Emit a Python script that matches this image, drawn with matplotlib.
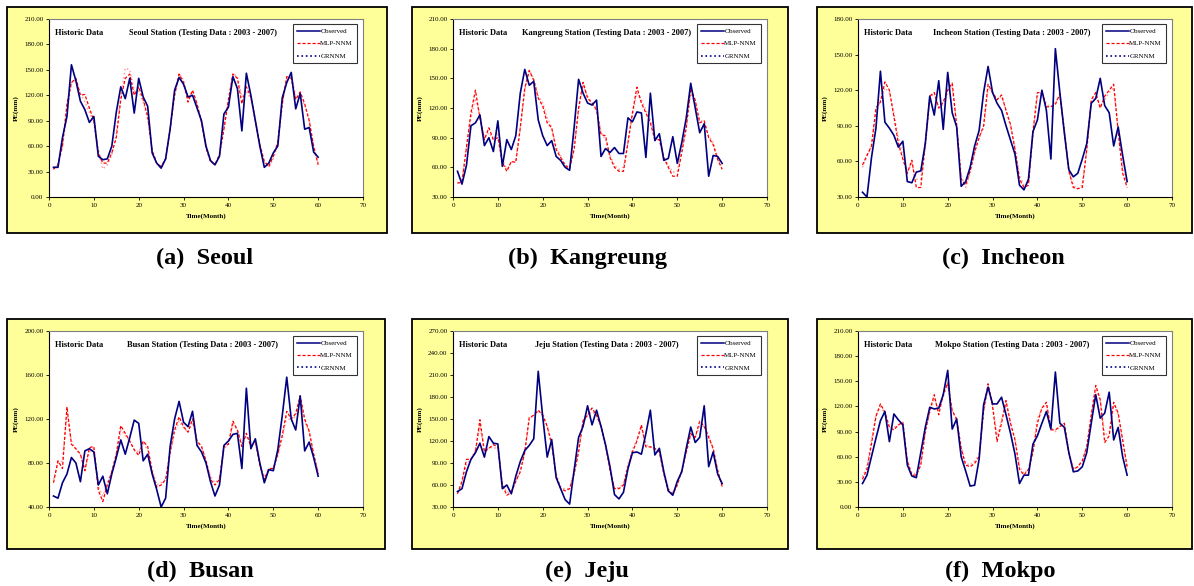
import matplotlib.pyplot as plt
import matplotlib.patches as mpatches
from matplotlib.lines import Line2D
import numpy as np

plt.rcParams["font.family"] = ["Liberation Serif", "DejaVu Serif"]

W, H = 1194, 586
YELLOW = "#FFFF99"
NAVY = "#000080"
RED = "#FF0000"
PINK = "#FF9F9F"

months = np.arange(1, 61)

stations = ["Seoul", "Kangreung", "Incheon", "Busan", "Jeju", "Mokpo"]
captions = ["(a)  Seoul", "(b)  Kangreung", "(c)  Incheon",
            "(d)  Busan", "(e)  Jeju", "(f)  Mokpo"]
y_limits = [(0, 210, 30), (30, 210, 30), (30, 180, 30),
            (40, 200, 40), (30, 270, 30), (0, 210, 30)]

# ── dane ──────────────────────────────────────────────────────────────────────
seoul_obs = [35, 35, 70, 95, 156, 137, 113, 103, 88, 95, 48, 44, 45, 60, 100, 130, 116, 140, 99, 140,
             118, 107, 52, 40, 34, 45, 80, 126, 141, 133, 118, 120, 105, 90, 60, 43, 38, 48, 98, 106,
             142, 128, 78, 146, 120, 90, 60, 35, 40, 52, 60, 117, 135, 147, 104, 122, 80, 82, 53, 47]
seoul_mlp = [33, 38, 60, 110, 135, 140, 120, 121, 105, 90, 52, 40, 40, 52, 70, 115, 140, 145, 120, 130,
             115, 95, 55, 40, 36, 45, 80, 120, 145, 135, 112, 126, 110, 88, 58, 42, 38, 50, 80, 115,
             145, 140, 110, 130, 118, 90, 62, 42, 36, 48, 65, 110, 142, 140, 115, 124, 110, 90, 60, 38]
seoul_grn = [32, 38, 60, 100, 135, 138, 122, 112, 100, 88, 55, 33, 38, 50, 75, 118, 152, 150, 125, 125,
             112, 92, 55, 40, 36, 45, 82, 120, 146, 138, 115, 125, 108, 88, 58, 42, 38, 48, 82, 112,
             146, 142, 118, 125, 115, 92, 62, 40, 35, 45, 62, 108, 140, 142, 120, 118, 108, 92, 58, 40]

kang_obs = [56, 43, 62, 102, 105, 113, 82, 90, 76, 107, 61, 88, 78, 92, 135, 159, 143, 147, 108, 92,
            82, 87, 71, 67, 60, 57, 100, 149, 135, 125, 123, 128, 71, 79, 75, 80, 74, 74, 110, 106,
            116, 115, 70, 135, 87, 94, 67, 69, 91, 64, 85, 110, 145, 120, 95, 104, 51, 72, 71, 64]
kang_mlp = [44, 45, 80, 115, 138, 110, 88, 100, 88, 90, 65, 56, 66, 65, 100, 140, 158, 148, 130, 122,
            105, 100, 78, 70, 62, 59, 78, 120, 146, 130, 125, 118, 93, 92, 70, 60, 56, 56, 85, 115,
            141, 125, 115, 105, 88, 88, 70, 60, 51, 51, 75, 100, 140, 128, 105, 107, 90, 83, 68, 58]
kang_grn = [44, 48, 80, 110, 130, 112, 90, 95, 88, 95, 68, 58, 65, 68, 100, 138, 158, 150, 132, 125,
            110, 100, 80, 72, 62, 60, 80, 118, 142, 132, 125, 120, 95, 88, 72, 62, 58, 60, 85, 112,
            135, 128, 118, 108, 90, 88, 70, 62, 55, 56, 78, 100, 135, 125, 108, 105, 92, 85, 70, 60]

inch_obs = [34, 30, 63, 88, 136, 93, 88, 82, 72, 77, 43, 42, 51, 52, 75, 115, 99, 128, 87, 135,
            101, 89, 39, 43, 55, 73, 86, 118, 140, 118, 109, 103, 90, 78, 66, 40, 36, 45, 85, 95,
            120, 103, 62, 155, 118, 84, 53, 47, 50, 62, 75, 109, 113, 130, 107, 101, 73, 89, 65, 43]
inch_mlp = [57, 65, 73, 105, 110, 127, 120, 98, 75, 62, 50, 61, 38, 38, 75, 115, 118, 105, 110, 120,
            126, 90, 45, 40, 52, 68, 80, 90, 125, 118, 112, 116, 103, 91, 70, 45, 38, 40, 85, 118,
            118, 106, 106, 108, 117, 85, 52, 38, 37, 38, 70, 112, 118, 105, 115, 120, 125, 85, 50, 38]
inch_grn = [55, 65, 72, 100, 112, 122, 118, 100, 80, 65, 52, 58, 45, 45, 72, 112, 118, 105, 108, 118,
            122, 92, 48, 38, 50, 66, 80, 88, 122, 118, 112, 115, 103, 90, 72, 48, 40, 42, 82, 115,
            118, 108, 106, 110, 115, 88, 52, 40, 37, 40, 70, 110, 115, 106, 112, 118, 122, 88, 55, 40]

busan_obs = [50, 48, 62, 70, 85, 80, 63, 91, 93, 90, 60, 68, 52, 70, 85, 101, 88, 103, 119, 116,
             82, 88, 70, 56, 40, 48, 95, 120, 136, 117, 113, 127, 96, 90, 80, 63, 50, 60, 96, 100,
             106, 107, 75, 148, 93, 102, 80, 62, 74, 73, 92, 123, 158, 120, 110, 141, 91, 99, 85, 68]
busan_mlp = [62, 82, 75, 131, 97, 93, 88, 73, 94, 95, 55, 45, 60, 72, 88, 114, 107, 100, 92, 87,
             100, 95, 72, 58, 60, 65, 90, 110, 122, 113, 108, 120, 100, 95, 82, 65, 60, 65, 95, 97,
             118, 110, 95, 107, 95, 100, 78, 65, 75, 75, 88, 105, 127, 120, 125, 141, 120, 109, 88, 70]
busan_grn = [65, 80, 82, 125, 100, 92, 88, 75, 90, 93, 58, 50, 62, 72, 88, 110, 105, 100, 92, 90,
             98, 92, 75, 60, 62, 65, 88, 108, 118, 112, 108, 117, 100, 95, 82, 68, 62, 66, 92, 98,
             115, 110, 98, 105, 97, 98, 80, 67, 74, 75, 86, 103, 122, 118, 123, 138, 118, 108, 88, 72]

jeju_obs = [51, 55, 78, 95, 104, 117, 98, 126, 117, 116, 55, 60, 48, 72, 92, 107, 114, 123, 215, 153,
            98, 122, 70, 55, 40, 34, 80, 125, 140, 168, 142, 162, 140, 115, 85, 47, 41, 50, 82, 104,
            105, 102, 130, 162, 101, 110, 78, 52, 46, 65, 78, 110, 139, 118, 125, 168, 85, 105, 75, 62]
jeju_mlp = [48, 65, 95, 95, 105, 149, 105, 110, 115, 112, 60, 46, 50, 65, 78, 105, 152, 155, 162, 155,
            140, 115, 72, 55, 52, 55, 75, 105, 148, 155, 165, 155, 140, 115, 80, 55, 55, 60, 85, 105,
            120, 142, 112, 112, 110, 105, 75, 52, 48, 60, 80, 105, 130, 125, 147, 140, 125, 110, 80, 58]
jeju_grn = [50, 62, 88, 95, 108, 140, 108, 110, 112, 108, 62, 50, 52, 65, 80, 105, 150, 155, 160, 158,
            140, 118, 75, 58, 54, 56, 78, 108, 145, 155, 160, 155, 138, 112, 82, 58, 56, 62, 88, 108,
            122, 138, 115, 112, 108, 104, 78, 55, 50, 60, 80, 105, 128, 125, 140, 140, 128, 108, 80, 58]

mokpo_obs = [28, 38, 60, 82, 103, 114, 78, 111, 104, 98, 50, 37, 35, 65, 95, 119, 117, 118, 134, 163,
             93, 105, 60, 43, 25, 26, 57, 122, 143, 123, 123, 131, 110, 88, 63, 28, 38, 38, 75, 85,
             100, 114, 93, 161, 100, 95, 65, 42, 43, 48, 65, 100, 134, 106, 112, 137, 80, 95, 60, 38]
mokpo_mlp = [33, 45, 75, 108, 123, 113, 95, 92, 98, 101, 55, 38, 38, 50, 90, 115, 134, 110, 135, 148,
             115, 105, 70, 50, 48, 52, 60, 115, 147, 120, 78, 100, 127, 100, 80, 45, 38, 45, 65, 100,
             118, 125, 92, 92, 96, 100, 65, 45, 48, 55, 72, 110, 145, 128, 77, 85, 125, 112, 80, 48]
mokpo_grn = [36, 48, 80, 110, 120, 112, 95, 95, 98, 98, 56, 40, 40, 52, 88, 112, 130, 115, 132, 145,
             115, 102, 72, 52, 50, 55, 62, 112, 142, 122, 85, 105, 122, 100, 82, 48, 40, 45, 70, 105,
             118, 122, 95, 90, 96, 98, 65, 46, 48, 56, 72, 108, 140, 128, 85, 90, 122, 110, 78, 45]

observed = [seoul_obs, kang_obs, inch_obs, busan_obs, jeju_obs, mokpo_obs]
mlp_nnm = [seoul_mlp, kang_mlp, inch_mlp, busan_mlp, jeju_mlp, mokpo_mlp]
grnnm = [seoul_grn, kang_grn, inch_grn, busan_grn, jeju_grn, mokpo_grn]

# ── położenia paneli w pikselach (lewo, góra, prawo, dół) ─────────────────────
boxes = [(7, 7, 387, 233), (412, 7, 788, 233), (817, 7, 1192, 233),
         (7, 319, 385, 549), (412, 319, 788, 549), (817, 319, 1192, 549)]
plots = [(49, 19, 363, 197), (453, 19, 767, 197), (858, 19, 1172, 197),
         (49, 331, 363, 507), (453, 331, 767, 507), (858, 331, 1172, 507)]
cap_pos = [(205, 258), (588, 258), (1003, 258), (200, 571), (587, 571), (1000, 571)]


def to_fig(l, t, r, b):
    return [l / W, 1 - b / H, (r - l) / W, (b - t) / H]


fig = plt.figure(figsize=(W / 100, H / 100), dpi=100)
fig.patch.set_facecolor("white")

for i in range(6):
    bl, bt, br, bb = boxes[i]
    fig.patches.append(mpatches.Rectangle((bl / W, 1 - bb / H), (br - bl) / W, (bb - bt) / H,
                                          transform=fig.transFigure, facecolor=YELLOW,
                                          edgecolor="black", linewidth=1.3, zorder=-10))

    ax = fig.add_axes(to_fig(*plots[i]))
    ax.set_zorder(1)
    ax.set_facecolor("white")
    ax.plot(months, grnnm[i], color=PINK, linestyle=":", linewidth=1.1, zorder=2)
    ax.plot(months, mlp_nnm[i], color=RED, linestyle="--", dashes=(2.5, 1.5), linewidth=0.9, zorder=3)
    ax.plot(months, observed[i], color=NAVY, linewidth=1.2, zorder=4)

    lo, hi, step = y_limits[i]
    ax.set_ylim(lo, hi)
    ax.set_yticks(np.arange(lo, hi + 1, step))
    ax.set_yticklabels([f"{v:.2f}" for v in np.arange(lo, hi + 1, step)])
    ax.set_xlim(0, 70)
    ax.set_xticks(np.arange(0, 71, 10))
    ax.tick_params(labelsize=5, length=2, width=0.6, pad=2)
    for side in ("left", "bottom"):
        ax.spines[side].set_color("black")
        ax.spines[side].set_linewidth(0.8)
    for side in ("top", "right"):
        ax.spines[side].set_color("#808080")
        ax.spines[side].set_linewidth(0.8)
    ax.set_xlabel("Time(Month)", fontsize=5, fontweight="bold", labelpad=4)
    ax.set_ylabel("PE(mm)", fontsize=5, fontweight="bold", labelpad=4)

    ax.text(0.02, 0.92, "Historic Data", transform=ax.transAxes, fontsize=6,
            fontweight="bold", va="center")
    ax.text(0.49, 0.92, f"{stations[i]} Station (Testing Data : 2003 - 2007)",
            transform=ax.transAxes, fontsize=6, fontweight="bold", ha="center", va="center")

    handles = [Line2D([], [], color=NAVY, linewidth=1.1),
               Line2D([], [], color=RED, linestyle="--", dashes=(2.5, 1.5), linewidth=0.9),
               Line2D([], [], color=NAVY, linestyle=":", linewidth=1.2)]
    leg = ax.legend(handles, ["Observed", "MLP-NNM", "GRNNM"], loc="upper right",
                    fontsize=5, frameon=True, fancybox=False, handlelength=3.3,
                    handletextpad=0.1, borderpad=0.55, labelspacing=0.95,
                    borderaxespad=0, bbox_to_anchor=(0.98, 0.97))
    leg.get_frame().set_edgecolor("black")
    leg.get_frame().set_linewidth(0.8)

    fig.text(cap_pos[i][0] / W, 1 - cap_pos[i][1] / H, captions[i], fontsize=17.5,
             fontweight="bold", ha="center", va="center")

plt.savefig("out.png", dpi=100, facecolor="white")
plt.close()
